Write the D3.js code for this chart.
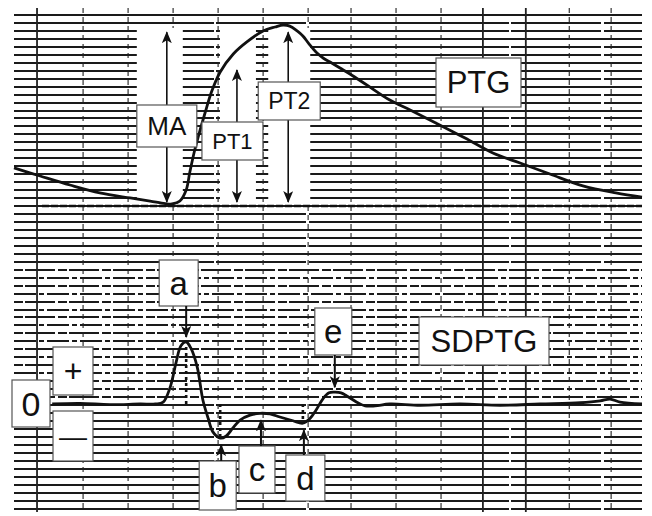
<!DOCTYPE html>
<html>
<head>
<meta charset="utf-8">
<script src="https://cdn.jsdelivr.net/npm/d3@7"></script>
<style>
  body { margin: 0; background: #fff; }
  svg { display: block; }
</style>
</head>
<body>
<svg id="chart"></svg>
<script>
// PTG 波形 (时间 ms, 振幅 % of MA)
const ptgTime = [0, 50, 107, 164, 222, 260, 289, 302, 317, 329, 336, 344, 352, 365, 378, 394, 419, 445, 476, 499, 514, 527, 541, 552, 564, 579, 592, 604, 623, 642, 674, 718, 757, 806, 862, 915, 967, 1024, 1087, 1150, 1200];
const ptgValue = [20.6, 16.1, 11.1, 6.7, 3.9, 2.2, 0.8, 0.6, 2.2, 8.3, 18.3, 28.9, 37.8, 51.1, 63.3, 73.9, 83.9, 90.6, 96.7, 98.9, 100, 99.4, 96.7, 93.9, 89.4, 84.4, 81.4, 79.4, 76.1, 72.8, 66.7, 58.3, 52.8, 45.6, 37.2, 28.9, 23.3, 17.2, 10.6, 6.7, 4.4];

// SDPTG 波形 (时间 ms, 相对 a 波)
const sdTime = [73, 126, 183, 241, 270, 285, 298, 310, 319, 329, 338, 350, 361, 371, 380, 394, 405, 418, 432, 451, 470, 489, 508, 533, 552, 566, 577, 590, 602, 613, 625, 636, 655, 671, 690, 718, 776, 852, 929, 1005, 1082, 1120, 1139, 1158, 1200];
const sdValue = [0, 0.01, -0.01, 0, 0, 0.03, 0.26, 0.68, 0.94, 1.0, 0.9, 0.6, 0.06, -0.23, -0.45, -0.55, -0.52, -0.39, -0.26, -0.18, -0.15, -0.16, -0.21, -0.27, -0.31, -0.23, -0.1, 0.08, 0.18, 0.19, 0.18, 0.13, 0.03, -0.03, -0.03, 0, -0.02, 0, -0.02, 0, 0.02, 0.05, 0.08, 0.03, 0];

// 波形标注
const waveLabels = ['a', 'b', 'c', 'd', 'e'];
const waveTimes = [329, 394, 470, 552, 613];
const waveValues = [1.0, -0.55, -0.15, -0.31, 0.19];

const ptgLabels = ['MA', 'PT1', 'PT2'];
const ptgLabelTimes = [292, 426, 524];
const ptgLabelTops = [96, 75, 96];

// 记录纸的竖线 (ms)
const gridTimes = [44, 132, 218, 304, 390, 476, 562, 644, 730, 816, 896, 978, 1061, 1141];
const strongGrid = [44, 896, 978];

const W = 652, H = 516;
const svg = d3.select('#chart').attr('width', W).attr('height', H);
const font = '"Liberation Sans", Arial, sans-serif';

const x = d3.scaleLinear().domain([0, 1200]).range([14, 642]);
const yPtg = d3.scaleLinear().domain([0, 100]).range([205, 25]);
const ySd = d3.scaleLinear().domain([-1, 1]).range([466, 342]);

svg.append('rect').attr('width', W).attr('height', H).attr('fill', '#fff');

// 定义箭头
const defs = svg.append('defs');
defs.append('marker')
  .attr('id', 'head')
  .attr('viewBox', '0 0 12 10')
  .attr('refX', 11).attr('refY', 5)
  .attr('markerWidth', 12).attr('markerHeight', 10)
  .attr('markerUnits', 'userSpaceOnUse')
  .attr('orient', 'auto-start-reverse')
  .append('path')
  .attr('d', 'M0,0 L12,5 L0,10 L3,5 Z')
  .attr('fill', '#111');

// 横线
const grid = svg.append('g');
d3.range(0, 63).forEach(i => {
  const yy = Math.round(15 + i * 7.96);
  const broken = yy > 268 && yy < 400;
  grid.append('line')
    .attr('x1', 14).attr('x2', 642)
    .attr('y1', yy).attr('y2', yy)
    .attr('stroke', '#1a1a1a')
    .attr('stroke-width', 2)
    .attr('stroke-dasharray', broken ? (i % 2 ? '22 3 5 3' : '9 2 30 3') : (i % 3 ? '200 2 90 3' : null));
});

// 竖线
gridTimes.forEach(t => {
  const strong = strongGrid.includes(t);
  grid.append('line')
    .attr('x1', x(t)).attr('x2', x(t))
    .attr('y1', 8).attr('y2', 512)
    .attr('stroke', '#222')
    .attr('stroke-width', strong ? 1.8 : 1.1)
    .attr('stroke-dasharray', strong ? null : '5 4');
});

// 箭头周围的空白带
const bands = [[-30, 16], [-17, 19], [-20, 22]];
ptgLabelTimes.forEach((t, i) => {
  svg.append('rect')
    .attr('x', x(t) + bands[i][0])
    .attr('y', 28)
    .attr('width', bands[i][1] - bands[i][0])
    .attr('height', yPtg(0) - 30)
    .attr('fill', '#fff');
});

// 基线 (虚线)
svg.append('line')
  .attr('x1', 42).attr('x2', 642)
  .attr('y1', yPtg(0) + 1).attr('y2', yPtg(0) + 1)
  .attr('stroke', '#111')
  .attr('stroke-width', 2.6)
  .attr('stroke-dasharray', '7 2');

// SDPTG 点线
[0, 1, 3].forEach(i => {
  svg.append('line')
    .attr('x1', x(waveTimes[i])).attr('x2', x(waveTimes[i]))
    .attr('y1', ySd(0)).attr('y2', ySd(waveValues[i]) + (i === 0 ? 4 : -2))
    .attr('stroke', '#111')
    .attr('stroke-width', 2.6)
    .attr('stroke-dasharray', '3 3');
});

// PTG 曲线
const ptgLine = d3.line()
  .x((d, i) => x(ptgTime[i]))
  .y(d => yPtg(d))
  .curve(d3.curveCatmullRom);
svg.append('path')
  .attr('d', ptgLine(ptgValue))
  .attr('fill', 'none')
  .attr('stroke', '#111')
  .attr('stroke-width', 2.8);

// SDPTG 曲线
const sdLine = d3.line()
  .x((d, i) => x(sdTime[i]))
  .y(d => ySd(d))
  .curve(d3.curveCatmullRom);
svg.append('path')
  .attr('d', sdLine(sdValue))
  .attr('fill', 'none')
  .attr('stroke', '#111')
  .attr('stroke-width', 2.8);

function arrow(x1, y1, x2, y2, both, w) {
  svg.append('line')
    .attr('x1', x1).attr('y1', y1)
    .attr('x2', x2).attr('y2', y2)
    .attr('stroke', '#111')
    .attr('stroke-width', w || 1.6)
    .attr('marker-end', 'url(#head)')
    .attr('marker-start', both ? 'url(#head)' : null);
}

function box(bx, by, bw, bh, text, size) {
  svg.append('rect')
    .attr('x', bx).attr('y', by)
    .attr('width', bw).attr('height', bh)
    .attr('fill', '#fff')
    .attr('stroke', '#555')
    .attr('stroke-width', 1.2);
  svg.append('text')
    .attr('x', bx + bw / 2)
    .attr('y', by + bh / 2)
    .attr('text-anchor', 'middle')
    .attr('dominant-baseline', 'central')
    .attr('font-family', font)
    .attr('font-size', size)
    .attr('fill', '#111')
    .text(text);
}

// PTG 箭头和标签
ptgLabelTimes.forEach((t, i) => {
  arrow(x(t), yPtg(ptgLabelTops[i]), x(t), yPtg(0) - 3, true, 1.6);
});
const ptgBoxes = [[-30, 105, 60, 42, 26], [-35, 122, 61, 38, 22], [-30, 82, 62, 38, 23]];
ptgLabels.forEach((l, i) => {
  const b = ptgBoxes[i];
  box(x(ptgLabelTimes[i]) + b[0], b[1], b[2], b[3], l, b[4]);
});
box(436, 58, 85, 49, 'PTG', 31);

// SDPTG 标签
box(419, 317, 130, 48, 'SDPTG', 31);
box(53, 347, 40, 48, '+', 32);
box(12, 380, 38, 47, '0', 34);
box(53, 411, 40, 50, '—', 28);

// a..e 标签与箭头
const waveBoxes = [
  { dx: -27, y: 260, w: 39, h: 46, up: false },
  { dx: -21, y: 461, w: 37, h: 49, up: true },
  { dx: -21, y: 446, w: 36, h: 47, up: true },
  { dx: -17, y: 455, w: 39, h: 46, up: true },
  { dx: -20, y: 308, w: 37, h: 47, up: false }
];
waveLabels.forEach((l, i) => {
  const b = waveBoxes[i];
  const cx = x(waveTimes[i]);
  box(cx + b.dx, b.y, b.w, b.h, l, 33);
  const yv = ySd(waveValues[i]);
  if (b.up) {
    arrow(cx + 1, b.y, cx + 1, yv + 7, false, 2);
  } else {
    arrow(cx, b.y + b.h, cx, yv - 5, false, 2);
  }
});
</script>
</body>
</html>
